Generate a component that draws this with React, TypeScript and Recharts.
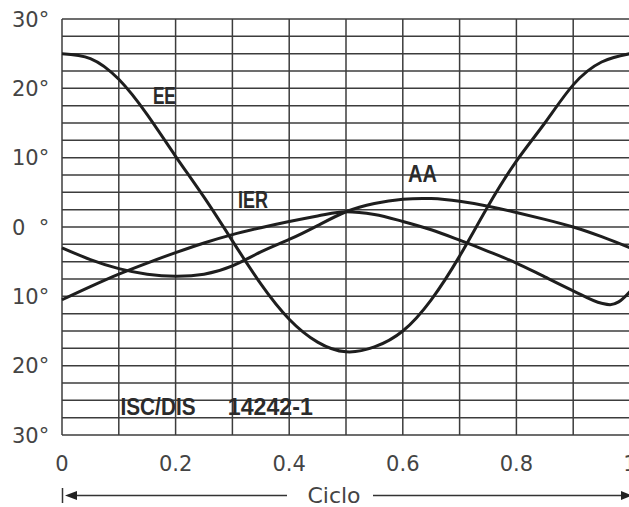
import React from 'react';
import {
    LineChart,
    Line,
    XAxis,
    YAxis,
    CartesianGrid,
    ReferenceLine,
    ReferenceDot
} from 'recharts';

// cycle positions (fraction of the cycle)
const cycle = [0, 0.05, 0.1, 0.15, 0.2, 0.25, 0.3, 0.35, 0.4, 0.45, 0.5, 0.55, 0.6, 0.65, 0.7, 0.75, 0.8, 0.85, 0.9, 0.95, 1];
const eeValues = [25, 24.3, 21.3, 16.2, 10.2, 4.3, -2, -8.2, -13.3, -16.6, -18, -17.3, -15, -10.5, -4.2, 3, 9.5, 15, 20.5, 23.8, 25];
const aaValues = [-3, -4.7, -6, -6.8, -7.1, -6.8, -5.6, -3.6, -1.8, 0.2, 2.2, 3.4, 4, 4.1, 3.7, 3, 2.1, 1.1, 0, -1.4, -3];

// IER has a sharper dip near the end, so a few extra points there
const ierCycle = [0, 0.05, 0.1, 0.15, 0.2, 0.25, 0.3, 0.35, 0.4, 0.45, 0.5, 0.55, 0.6, 0.65, 0.7, 0.75, 0.8, 0.85, 0.9, 0.95, 0.965, 0.98, 1];
const ierValues = [-10.5, -8.6, -6.8, -5.2, -3.7, -2.3, -1.1, -0.1, 0.8, 1.6, 2.2, 1.8, 0.8, -0.4, -1.9, -3.5, -5.2, -7.2, -9.2, -11, -11.2, -10.8, -9.3];

const yTicks = [30, 20, 10, 0, -10, -20, -30];
const yTickLabels = ['30°', '20°', '10°', '0  °', '10°', '20°', '30°'];
const xTicks = [0, 0.2, 0.4, 0.6, 0.8, 1];
const xTickLabels = ['0', '0.2', '0.4', '0.6', '0.8', '1'];

const gridX = [0, 0.1, 0.2, 0.3, 0.4, 0.5, 0.6, 0.7, 0.8, 0.9, 1];
const gridY = [30, 27.5, 25, 22.5, 20, 17.5, 15, 12.5, 10, 7.5, 5, 2.5, 0, -2.5, -5, -7.5, -10, -12.5, -15, -17.5, -20, -22.5, -25, -27.5, -30];

// curve labels and the standard reference
const notes = ['EE', 'IER', 'AA', 'ISC/DIS', '14242-1'];
const noteX = [0.16, 0.31, 0.609, 0.103, 0.292];
const noteY = [17.8, 2.7, 6.5, -27.1, -27.1];

const eeData = cycle.map((c, i) => ({ c, v: eeValues[i] }));
const aaData = cycle.map((c, i) => ({ c, v: aaValues[i] }));
const ierData = ierCycle.map((c, i) => ({ c, v: ierValues[i] }));

const tickFont = "'DejaVu Sans', sans-serif";
const noteFont = "'Liberation Sans', Arial, sans-serif";
const ink = '#1e1e1e';
const gridInk = '#3c3c3c';

// the reference uses a condensed face, squeeze the text to its width
const noteWidth: Record<string, number> = { 'EE': 23, 'IER': 30, 'AA': 29, 'ISC/DIS': 75, '14242-1': 85 };

const YTick = ({ y, payload }: any) => {
    const i = yTicks.indexOf(payload.value);
    return (
        <text x={12} y={y} dy="0.36em" fontFamily={tickFont} fontSize={21} fill="#444" style={{ whiteSpace: 'pre' }}>
            {yTickLabels[i]}
        </text>
    );
};

const XTick = ({ x, y, payload }: any) => {
    const i = xTicks.indexOf(payload.value);
    return (
        <text x={x} y={y + 36} textAnchor="middle" fontFamily={tickFont} fontSize={21} fill="#444">
            {xTickLabels[i]}
        </text>
    );
};

// "Ciclo" with the arrow spanning the cycle
const CicloLabel = ({ viewBox }: any) => {
    const { x, y } = viewBox;
    const ay = y + 60.5;
    return (
        <g>
            <line x1={x + 0.5} x2={x + 0.5} y1={ay - 7.5} y2={ay + 7.5} stroke="#333" strokeWidth={1.5} />
            <line x1={x + 10} x2={x + 225} y1={ay} y2={ay} stroke="#333" strokeWidth={1.3} />
            <polygon points={`${x + 3},${ay} ${x + 15},${ay - 4.5} ${x + 15},${ay + 4.5}`} fill="#222" />
            <text x={x + 272} y={ay + 7} textAnchor="middle" fontFamily={tickFont} fontSize={22} fill="#444">Ciclo</text>
            <line x1={x + 311} x2={x + 562} y1={ay} y2={ay} stroke="#333" strokeWidth={1.3} />
            <polygon points={`${x + 559},${ay - 4.5} ${x + 559},${ay + 4.5} ${x + 570},${ay}`} fill="#222" />
        </g>
    );
};

const noteLabel = (text: string) => (props: any) => {
    const { x, y } = props.viewBox;
    return (
        <text
            x={x}
            y={y}
            fontFamily={noteFont}
            fontWeight="bold"
            fontSize={23}
            fill="#2b2b2b"
            textLength={noteWidth[text]}
            lengthAdjust="spacingAndGlyphs"
        >
            {text}
        </text>
    );
};

export default function App() {
    return (
        <div style={{ position: 'fixed', left: 0, top: 0, width: 629, height: 507, overflow: 'hidden', background: '#fff' }}>
            <LineChart width={660} height={507} margin={{ top: 19, right: 30, bottom: 0, left: 0 }}>
                <CartesianGrid stroke={gridInk} strokeWidth={1.5} horizontal={false} verticalValues={gridX} />
                <XAxis
                    type="number"
                    dataKey="c"
                    domain={[0, 1]}
                    ticks={xTicks}
                    tick={<XTick />}
                    tickSize={0}
                    tickMargin={0}
                    axisLine={false}
                    height={72}
                    allowDuplicatedCategory={false}
                    label={<CicloLabel />}
                />
                <YAxis
                    type="number"
                    domain={[-30, 30]}
                    ticks={yTicks}
                    tick={<YTick />}
                    tickSize={0}
                    axisLine={false}
                    width={62}
                />
                {gridY.map(g => (
                    <ReferenceLine key={g} y={g} stroke={gridInk} strokeWidth={1.5} />
                ))}
                <Line data={eeData} dataKey="v" type="natural" stroke={ink} strokeWidth={3} dot={false} isAnimationActive={false} />
                <Line data={aaData} dataKey="v" type="natural" stroke={ink} strokeWidth={3} dot={false} isAnimationActive={false} />
                <Line data={ierData} dataKey="v" type="monotone" stroke={ink} strokeWidth={3} dot={false} isAnimationActive={false} />
                {notes.map((n, i) => (
                    <ReferenceDot key={n} x={noteX[i]} y={noteY[i]} r={0} fill="none" stroke="none" label={noteLabel(n)} />
                ))}
            </LineChart>
        </div>
    );
}
